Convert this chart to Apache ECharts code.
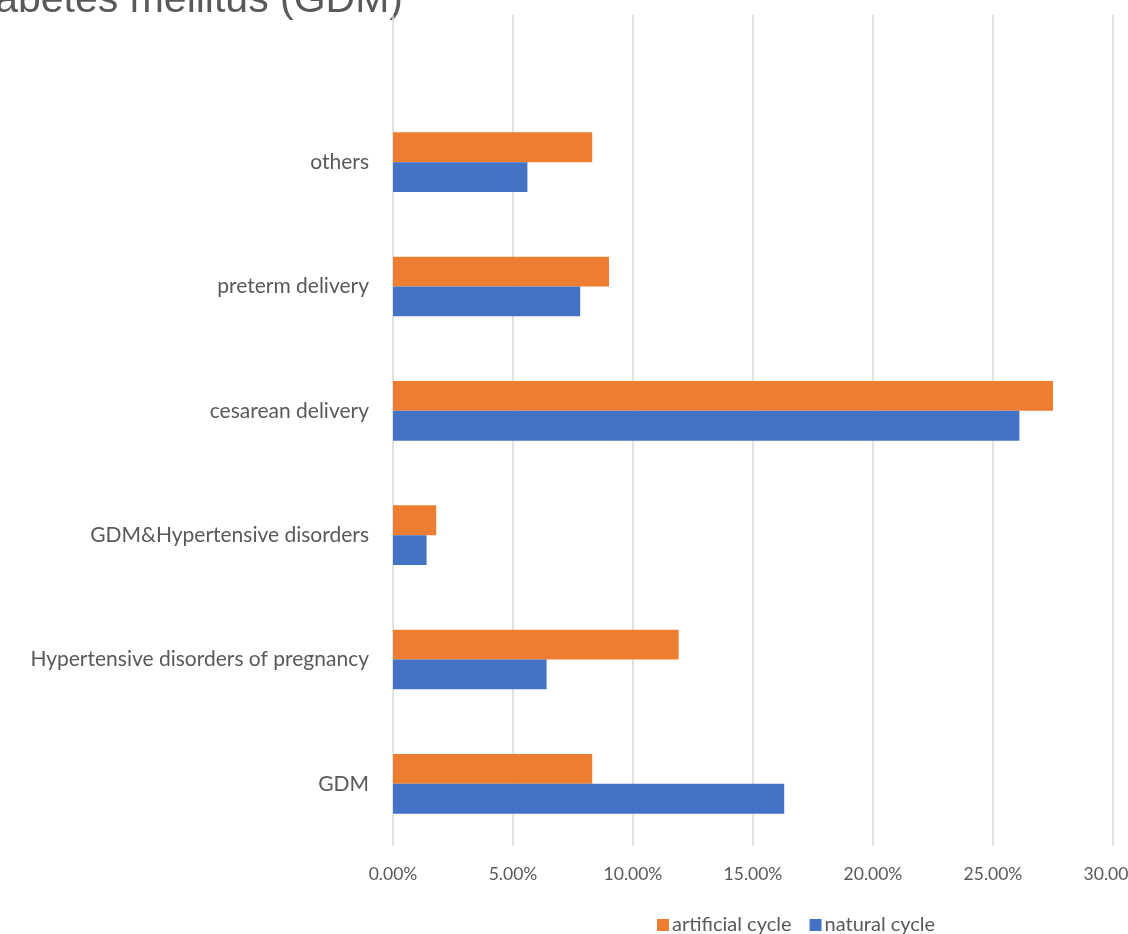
<!DOCTYPE html>
<html>
<head>
<meta charset="utf-8">
<script src="https://cdn.jsdelivr.net/npm/echarts@6/dist/echarts.min.js"></script>
<style>
  html, body { margin: 0; padding: 0; background: #fff; }
  #chart { width: 1128px; height: 934px; }
</style>
</head>
<body>
<div id="chart"></div>
<script>
// categories, bottom to top as ECharts lays out a category y axis
const categories = [
  "GDM",
  "Hypertensive disorders of pregnancy",
  "GDM&Hypertensive disorders",
  "cesarean delivery",
  "preterm delivery",
  "others"
];
const artificialCycle = [8.3, 11.9, 1.8, 27.5, 9.0, 8.3];
const naturalCycle = [16.3, 6.4, 1.4, 26.1, 7.8, 5.6];
const xTicks = [0, 5, 10, 15, 20, 25, 30];

const chart = echarts.init(document.getElementById("chart"));
const labelFont = "Lato, 'Open Sans', sans-serif";
const gridColor = "#d9d9d9";

const option = {
  animation: false,
  color: ["#ED7D31", "#4472C4"],
  graphic: [
    {
      type: "text",
      right: 1128 - 403,
      top: -20,
      style: {
        text: "gestational diabetes mellitus (GDM)",
        font: "41px 'Liberation Sans', Arial, sans-serif",
        fill: "#595959"
      }
    }
  ],
  legend: {
    data: ["artificial cycle", "natural cycle"],
    top: 910,
    left: 652,
    itemWidth: 12,
    itemHeight: 12,
    itemGap: 18,
    icon: "rect",
    textStyle: { color: "#595959", fontSize: 20, fontFamily: labelFont, padding: [0, 0, 0, -2] }
  },
  grid: [
    { left: 393, right: 15, top: 100, bottom: 88, outerBoundsMode: "none", containLabel: false },
    // top strip: gridlines continue above the bars
    { left: 393, right: 15, top: 15, height: 85, outerBoundsMode: "none", containLabel: false }
  ],
  xAxis: [
    {
      type: "value",
      gridIndex: 0,
      min: xTicks[0],
      max: xTicks[xTicks.length - 1],
      interval: 5,
      axisLine: { show: false },
      axisTick: { show: false },
      splitLine: { lineStyle: { color: gridColor, width: 1.5 } },
      axisLabel: {
        color: "#595959",
        fontSize: 17.5,
        fontFamily: labelFont,
        margin: 19,
        formatter: (v) => v.toFixed(2) + "%"
      }
    },
    {
      type: "value",
      gridIndex: 1,
      min: xTicks[0],
      max: xTicks[xTicks.length - 1],
      interval: 5,
      axisLine: { show: false },
      axisTick: { show: false },
      axisLabel: { show: false },
      splitLine: { lineStyle: { color: gridColor, width: 1.5 } }
    }
  ],
  yAxis: [
    {
      type: "category",
      gridIndex: 0,
      data: categories,
      axisLine: { show: false },
      axisTick: { show: false },
      axisLabel: {
        color: "#595959",
        fontSize: 21,
        fontFamily: labelFont,
        margin: 24
      }
    },
    {
      type: "category",
      gridIndex: 1,
      data: [""],
      show: false
    }
  ],
  series: [
    {
      name: "artificial cycle",
      type: "bar",
      data: artificialCycle,
      barGap: "0%",
      barCategoryGap: "52%"
    },
    {
      name: "natural cycle",
      type: "bar",
      data: naturalCycle,
      barGap: "0%",
      barCategoryGap: "52%"
    }
  ]
};
chart.setOption(option);
</script>
</body>
</html>
